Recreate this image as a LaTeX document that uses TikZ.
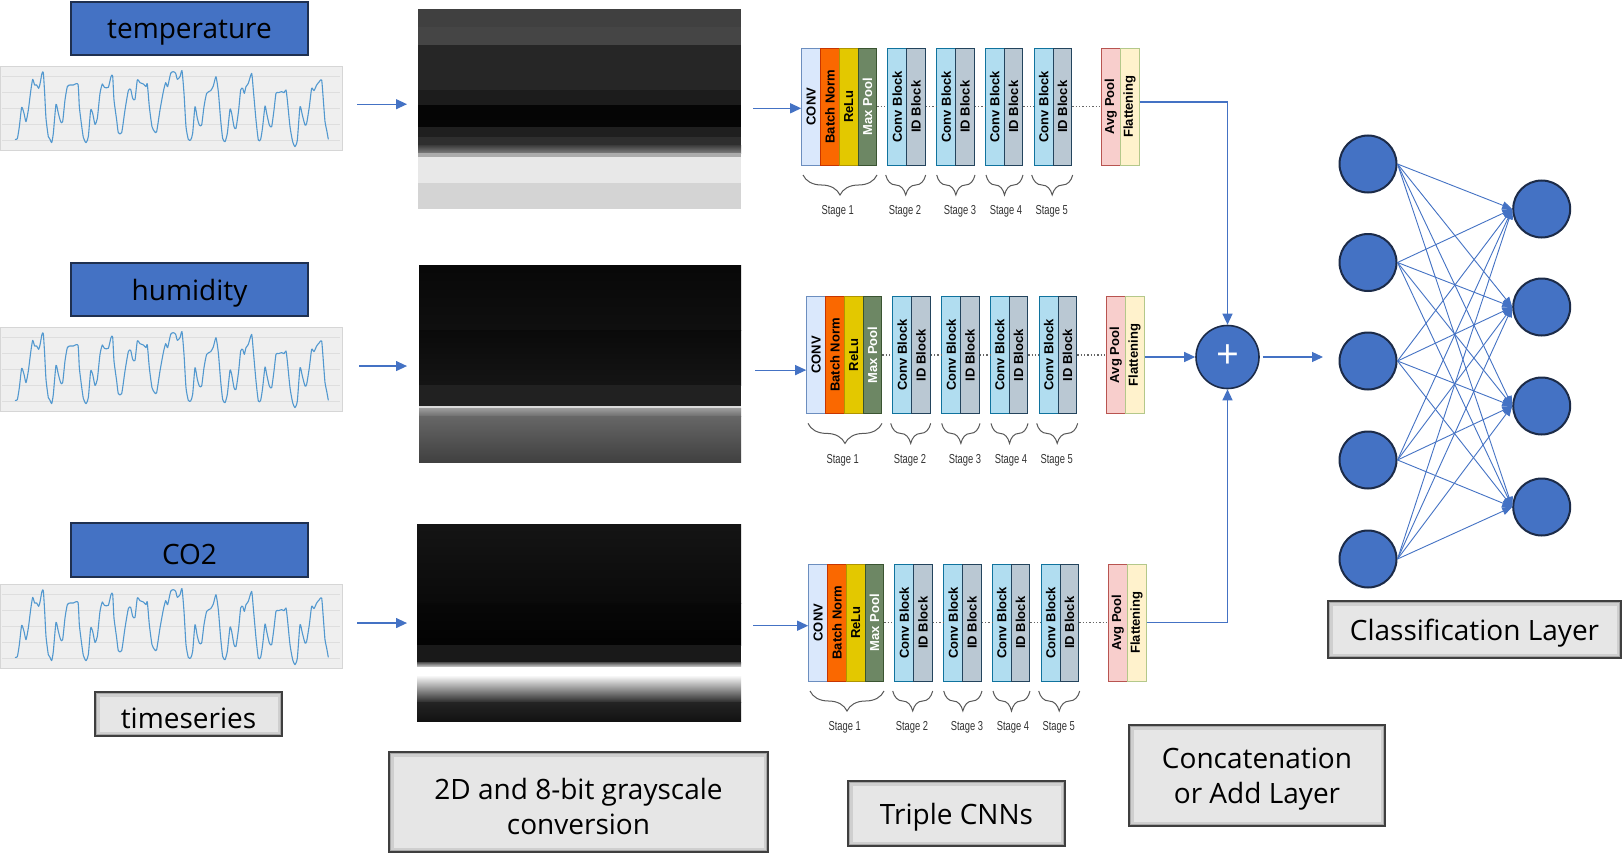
\documentclass[tikz,border=0pt]{standalone}
\usepackage{fontspec}
\setmainfont{Open Sans}
\newfontfamily\blkfont{Liberation Sans}
\usetikzlibrary{arrows.meta,calc,decorations.pathreplacing}
\definecolor{boxblue}{HTML}{4472C4}
\definecolor{boxbd}{HTML}{1F3050}
\definecolor{boxgray}{HTML}{E6E6E6}
\definecolor{graybd}{HTML}{3F3F3F}
\definecolor{bevA}{HTML}{CFCFCF}
\definecolor{bevB}{HTML}{A8A8A8}
\definecolor{chbg}{HTML}{EFEFEF}
\definecolor{chbd}{HTML}{D6D6D6}
\definecolor{chgrid}{HTML}{DEDEDE}
\definecolor{tsl}{HTML}{5298CF}
\definecolor{arrc}{HTML}{4472C4}
\definecolor{cvf}{HTML}{DAE8FC}\definecolor{cvd}{HTML}{6C8EBF}
\definecolor{bnf}{HTML}{FA6800}\definecolor{bnd}{HTML}{C73500}
\definecolor{rlf}{HTML}{E3C800}\definecolor{rld}{HTML}{B09500}
\definecolor{mpf}{HTML}{6D8764}\definecolor{mpd}{HTML}{3A5431}
\definecolor{cbf}{HTML}{B1DDF0}\definecolor{cbd}{HTML}{10739E}
\definecolor{idf}{HTML}{BAC8D3}\definecolor{idd}{HTML}{23445D}
\definecolor{avf}{HTML}{F8CECC}\definecolor{avd}{HTML}{B85450}
\definecolor{flf}{HTML}{FFF2CC}\definecolor{fld}{HTML}{B4C88A}
\definecolor{nnf}{HTML}{4472C4}\definecolor{nnd}{HTML}{1C2B48}
\tikzset{
  lbl/.style={font=\fontsize{28}{35}\selectfont, align=center, inner sep=0pt, yshift=-4pt},
  bluebox/.style={inner sep=0pt, fill=boxblue, draw=boxbd, line width=2pt},
  graybox/.style={inner sep=0pt, fill=boxgray, draw=graybd, line width=1.3pt,
    path picture={
      \draw[bevA, line width=9pt] (path picture bounding box.south west) rectangle (path picture bounding box.north east);
      \draw[bevB, line width=4pt] (path picture bounding box.south west) rectangle (path picture bounding box.north east);}},
  chart/.style={fill=chbg, draw=chbd, line width=1pt, inner sep=0pt, anchor=north west, minimum width=342pt, minimum height=84pt},
  tsline/.style={tsl, line width=1.1pt, line join=round},
  gridl/.style={chgrid, line width=0.8pt},
  imgframe/.style={inner sep=0pt, anchor=north west},
  arr/.style={arrc, line width=1.2pt, -{Triangle[length=11pt,width=10pt]}},
  nnarr/.style={arrc, line width=0.9pt, -{Triangle[length=10pt,width=8pt]}},
  blk/.style={rotate=90, minimum width=116.7pt, minimum height=18.8pt, inner sep=0pt, line width=1pt,
    font=\blkfont\bfseries\fontsize{13}{13}\selectfont},
  dotl/.style={black!60, line width=1.3pt, dotted},
  brc/.style={black!65, line width=1pt, decorate, decoration={brace, mirror, amplitude=20pt}},
  stagelbl/.style={font=\blkfont\fontsize{13}{13}\selectfont, text=black!80, xscale=0.72, inner sep=0pt},
  nnc/.style={circle, minimum size=57pt, inner sep=0pt, fill=nnf, draw=nnd, line width=2pt},
  plusc/.style={circle, minimum size=63pt, inner sep=0pt, fill=nnf, draw=nnd, line width=1.6pt, text=white, font=\fontsize{40}{40}\selectfont}
}
\newcommand\tsplot{%
  \draw[tsline] plot[smooth, tension=0.35] coordinates {(45,238) (52,236) (58,200) (65,142) (72,160) (78,185) (85,150) (92,95) (98,58) (104,75) (110,75) (116,85) (120,72) (126,40) (130,38) (134,100) (138,175) (145,230) (150,238) (155,248) (160,220) (168,133) (175,160) (182,185) (188,185) (195,120) (202,80) (210,75) (220,75) (234,73) (238,140) (244,190) (250,232) (258,248) (265,230) (272,150) (278,160) (285,193) (292,175) (300,100) (307,72) (313,82) (325,82) (333,50) (338,48) (342,120) (350,180) (355,218) (365,218) (375,150) (385,92) (392,88) (398,115) (405,118) (412,60) (420,68) (430,72) (438,80) (442,72) (448,140) (456,200) (464,215) (470,215) (480,150) (490,95) (497,68) (503,80) (512,40) (520,35) (527,40) (532,58) (540,50) (546,32) (552,100) (558,200) (565,238) (572,240) (578,220) (585,140) (592,175) (598,195) (605,195) (612,140) (620,100) (632,92) (640,78) (648,50) (655,95) (662,180) (668,235) (675,245) (682,220) (690,148) (695,160) (702,200) (708,205) (716,150) (722,90) (728,85) (733,100) (738,80) (745,70) (755,40) (760,90) (768,180) (775,240) (782,238) (788,200) (795,138) (800,160) (808,195) (815,200) (822,150) (828,100) (835,98) (845,95) (852,98) (858,90) (862,120) (870,200) (878,245) (885,260) (892,240) (900,140) (907,165) (915,195) (920,190) (928,140) (935,85) (942,92) (950,75) (958,65) (965,60) (970,120) (975,185) (980,210) (985,238)};}
\newcommand\chartgrid[1]{%
  \begin{scope}[shift={(0,#1)}]
  \foreach \gy in {76.7,92.3,108.3,124.3,140} \draw[gridl] (2,\gy) -- (340,\gy);
  \end{scope}}
\newcommand\cnnnet[3]{%
  \begin{scope}[shift={(#2,#3)}]
  \node[blk,fill=cvf,draw=cvd] (#1conv) at (811.1,106.7) {CONV};
  \node[blk,fill=bnf,draw=bnd] (#1bn) at (829.9,106.7) {Batch Norm};
  \node[blk,fill=rlf,draw=rld] (#1relu) at (848.7,106.7) {ReLu};
  \node[blk,fill=mpf,draw=mpd,text=white] (#1mp) at (867.5,106.7) {Max Pool};
  \node[blk,fill=cbf,draw=cbd] (#1cbb) at (897.1,106.7) {Conv Block};
  \node[blk,fill=idf,draw=idd] (#1idb) at (915.9,106.7) {ID Block};
  \node[blk,fill=cbf,draw=cbd] (#1cbc) at (946.1,106.7) {Conv Block};
  \node[blk,fill=idf,draw=idd] (#1idc) at (964.9,106.7) {ID Block};
  \node[blk,fill=cbf,draw=cbd] (#1cbd) at (994.7,106.7) {Conv Block};
  \node[blk,fill=idf,draw=idd] (#1idd) at (1013.5,106.7) {ID Block};
  \node[blk,fill=cbf,draw=cbd] (#1cbe) at (1043.7,106.7) {Conv Block};
  \node[blk,fill=idf,draw=idd] (#1ide) at (1062.5,106.7) {ID Block};
  \node[blk,fill=avf,draw=avd] (#1avg) at (1110.9,106.7) {Avg Pool};
  \node[blk,fill=flf,draw=fld] (#1flat) at (1129.6,106.7) {Flattening};
  \draw[dotl] (#1mp.south) -- (#1cbb.north);
  \draw[dotl] (#1idb.south) -- (#1cbc.north);
  \draw[dotl] (#1idc.south) -- (#1cbd.north);
  \draw[dotl] (#1idd.south) -- (#1cbe.north);
  \draw[dotl] (#1ide.south) -- (#1avg.north);
  \draw[brc] (803,175) -- (877,175);
  \draw[brc] (885.7,175) -- (925.7,175);
  \draw[brc] (936.7,175) -- (975,175);
  \draw[brc] (986,175) -- (1023,175);
  \draw[brc] (1031.7,175) -- (1072.7,175);
  \node[stagelbl] (#1st1) at (837.7,211.7) {Stage 1};
  \node[stagelbl] (#1st2) at (905,211.7) {Stage 2};
  \node[stagelbl] (#1st3) at (960,211.7) {Stage 3};
  \node[stagelbl] (#1st4) at (1006,211.7) {Stage 4};
  \node[stagelbl] (#1st5) at (1051.7,211.7) {Stage 5};
  \end{scope}}
\begin{document}
\begin{tikzpicture}[x=1pt,y=-1pt]
\useasboundingbox (0,0) rectangle (1624,856);
\fill[white] (0,0) rectangle (1624,856);

% ---- variable labels
\node[bluebox, minimum width=237pt, minimum height=53pt, label={[lbl]center:temperature}] (ltemp) at (189.5,28.5) {};
\node[bluebox, minimum width=237pt, minimum height=53pt, label={[lbl]center:humidity}] (lhum) at (189.5,289.5) {};
\node[bluebox, minimum width=237pt, minimum height=54pt, label={[lbl]center:CO2}] (lco) at (189.5,550) {};

% ---- charts
\node[chart] (chart1) at (0,66) {};
\node[chart] (chart2) at (0,327) {};
\node[chart] (chart3) at (0,584) {};
\chartgrid{0}\chartgrid{261}\chartgrid{518}
\begin{scope}[shift={(0,60)}, scale=0.33333]\tsplot\end{scope}
\begin{scope}[shift={(0,321)}, scale=0.33333]\tsplot\end{scope}
\begin{scope}[shift={(0,578)}, scale=0.33333]\tsplot\end{scope}

% ---- grayscale images
\fill[black!75] (418,9) rectangle (741,26.7);
\fill[black!73] (418,26.7) rectangle (741,45);
\fill[black!85] (418,45) rectangle (741,90);
\fill[black!89] (418,90) rectangle (741,105);
\fill[black!98] (418,105) rectangle (741,126.7);
\fill[black!88] (418,126.7) rectangle (741,136.7);
\fill[black!82] (418,136.7) rectangle (741,145);
\shade[top color=black!77, bottom color=black!50] (418,145) rectangle (741,153.3);
\fill[black!33] (418,153.3) rectangle (741,156.7);
\fill[black!9] (418,156.7) rectangle (741,183.3);
\fill[black!17] (418,183.3) rectangle (741,209);
\node[imgframe, minimum width=323pt, minimum height=200pt] (img1) at (418,9) {};

\shade[top color=black!97, bottom color=black!94] (419,265) rectangle (741,330);
\shade[top color=black!96, bottom color=black!92] (419,330) rectangle (741,385);
\fill[black!87] (419,385) rectangle (741,406);
\fill[black!14] (419,406) rectangle (741,408.7);
\shade[top color=black!40, bottom color=black!58] (419,408.7) rectangle (741,416.7);
\shade[top color=black!60, bottom color=black!75] (419,416.7) rectangle (741,462.7);
\node[imgframe, minimum width=322pt, minimum height=197.7pt] (img2) at (419,265) {};

\shade[top color=black!92, bottom color=black!96] (417,524) rectangle (741,603.3);
\shade[top color=black!97, bottom color=black!99] (417,603.3) rectangle (741,645);
\fill[black!90] (417,645) rectangle (741,662);
\shade[top color=black!70, bottom color=black!20] (417,662) rectangle (741,666.7);
\fill[white] (417,666.7) rectangle (741,675);
\shade[top color=white, bottom color=black!82] (417,675) rectangle (741,702);
\shade[top color=black!86, bottom color=black!93] (417,702) rectangle (741,721.7);
\node[imgframe, minimum width=324pt, minimum height=197.7pt] (img3) at (417,524) {};

% ---- chart -> image arrows
\draw[arr] ([xshift=14pt,yshift=5pt]chart1.east |- img1.west) -- ([xshift=-11pt,yshift=5pt]img1.west);
\draw[arr] ([xshift=16pt,yshift=-2pt]chart2.east |- img2.west) -- ([xshift=-12pt,yshift=-2pt]img2.west);
\draw[arr] ([xshift=14pt]chart3.east |- img3.west) -- ([xshift=-10pt]img3.west);

% ---- CNNs
\cnnnet{c1}{0}{0}
\cnnnet{c2}{5}{248.4}
\cnnnet{c3}{7}{516}

% ---- image -> CNN arrows
\draw[arr] ([xshift=-48pt,yshift=-1.6pt]c1conv.north) -- ([yshift=-1.6pt]c1conv.north);
\draw[arr] ([xshift=-51pt,yshift=-15pt]c2conv.north) -- ([yshift=-15pt]c2conv.north);
\draw[arr] ([xshift=-55pt,yshift=-3pt]c3conv.north) -- ([yshift=-3pt]c3conv.north);

% ---- add layer
\node[plusc] (plus) at (1227.5,357) {+};
\draw[arr] ([yshift=4.7pt]c1flat.south) -| (plus.north);
\draw[arr] (plus.west -| c2flat.south) -- (plus.west);
\draw[arr] (c3flat.south) -| (plus.south);
\coordinate (nnin) at (1323,357);
\draw[arr] ([xshift=3pt]plus.east) -- (nnin);

% ---- classification network
\foreach \i/\yy in {1/164,2/262.5,3/361,4/460,5/559} \node[nnc] (in\i) at (1368,\yy) {};
\foreach \j/\yy in {1/209,2/307,3/406,4/507} \node[nnc] (out\j) at (1541.7,\yy) {};
\foreach \i in {1,...,5} {\foreach \j in {1,...,4} {\draw[nnarr] (in\i.east) -- (out\j.west);}}

% ---- gray caption boxes
\node[graybox, minimum width=187pt, minimum height=44pt, label={[lbl]center:timeseries}] (cts) at (188.5,714) {};
\node[graybox, minimum width=379pt, minimum height=100pt, label={[lbl]center:{2D and 8-bit grayscale\\conversion}}] (cconv) at (578.5,802) {};
\node[graybox, minimum width=217pt, minimum height=65pt, label={[lbl]center:Triple CNNs}] (ccnn) at (956.5,813.5) {};
\node[graybox, minimum width=256pt, minimum height=101pt, label={[lbl]center:{Concatenation\\or Add Layer}}] (cadd) at (1257,775.5) {};
\node[graybox, minimum width=293pt, minimum height=57pt, label={[lbl]center:Classification Layer}] (ccls) at (1474.5,629.5) {};
\end{tikzpicture}
\end{document}
